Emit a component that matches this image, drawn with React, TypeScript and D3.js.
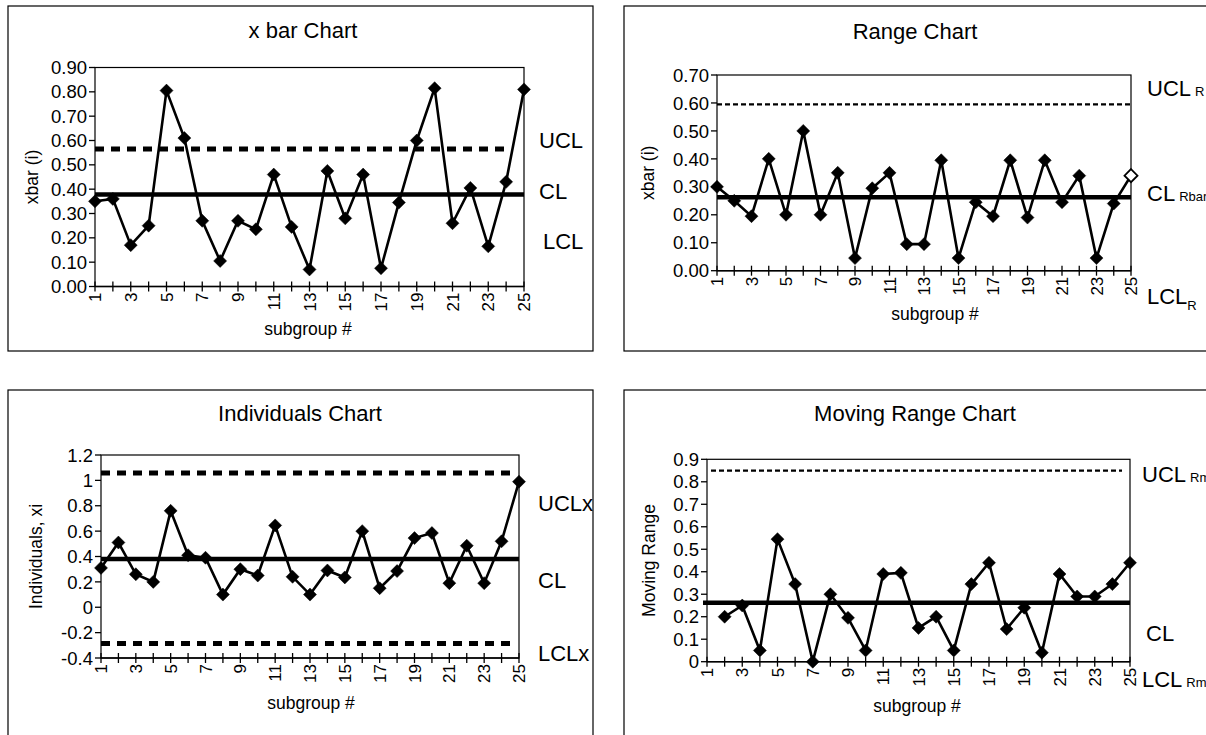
import React from "react";
import * as d3 from "d3";

const subgroups = d3.range(1, 26);
const xbarValues = [0.35, 0.36, 0.17, 0.25, 0.805, 0.61, 0.27, 0.105, 0.27, 0.235, 0.46, 0.245, 0.07, 0.475, 0.28, 0.46, 0.075, 0.345, 0.6, 0.815, 0.26, 0.405, 0.165, 0.43, 0.81];
const rangeValues = [0.3, 0.25, 0.195, 0.4, 0.2, 0.5, 0.2, 0.35, 0.045, 0.295, 0.35, 0.095, 0.095, 0.395, 0.045, 0.245, 0.195, 0.395, 0.19, 0.395, 0.245, 0.34, 0.045, 0.24, 0.34];
const indivValues = [0.31, 0.51, 0.26, 0.2, 0.76, 0.41, 0.39, 0.1, 0.3, 0.25, 0.645, 0.24, 0.1, 0.29, 0.235, 0.6, 0.15, 0.285, 0.545, 0.585, 0.19, 0.485, 0.19, 0.52, 0.99];
const mrValues = [null, 0.2, 0.25, 0.05, 0.545, 0.345, 0.0, 0.3, 0.195, 0.05, 0.39, 0.395, 0.15, 0.2, 0.05, 0.345, 0.44, 0.145, 0.24, 0.04, 0.39, 0.29, 0.29, 0.345, 0.44];

const xbarTicks = [0, 0.1, 0.2, 0.3, 0.4, 0.5, 0.6, 0.7, 0.8, 0.9];
const rangeTicks = [0, 0.1, 0.2, 0.3, 0.4, 0.5, 0.6, 0.7];
const indivTicks = [-0.4, -0.2, 0, 0.2, 0.4, 0.6, 0.8, 1, 1.2];
const mrTicks = [0, 0.1, 0.2, 0.3, 0.4, 0.5, 0.6, 0.7, 0.8, 0.9];

const FONT = "'Liberation Sans', Arial, sans-serif";

type Limit = { v: number; kind: "thickDash" | "thinDash" | "solid"; x0?: number; x1?: number };
type Lbl = { main: string; sub?: string; subShift?: number; x: number; y: number };

interface PanelProps {
  box: [number, number, number, number];
  title: string;
  titleX: number;
  titleY: number;
  xr: [number, number];
  yr: [number, number];
  ydom: [number, number];
  ticks: number[];
  fmt: (v: number) => string;
  values: (number | null)[];
  limits: Limit[];
  labels: Lbl[];
  yTitle: string;
  yTitleX: number;
  xTitleX: number;
  xTitleY: number;
  hollowLast?: boolean;
}

function Panel(p: PanelProps) {
  const x = d3.scaleLinear().domain([1, 25]).range(p.xr);
  const y = d3.scaleLinear().domain(p.ydom).range(p.yr);
  const pts = subgroups
    .map((s, i) => ({ s, v: p.values[i] }))
    .filter((d) => d.v !== null) as { s: number; v: number }[];
  const line = d3
    .line<{ s: number; v: number }>()
    .x((d) => x(d.s))
    .y((d) => y(d.v));
  const [bx, by, bw, bh] = p.box;
  const diamond = (cx: number, cy: number, r: number) =>
    `M${cx},${cy - r}L${cx + r},${cy}L${cx},${cy + r}L${cx - r},${cy}Z`;
  const yTop = p.yr[1];
  const yBot = p.yr[0];
  return (
    <g>
      <rect x={bx} y={by} width={bw} height={bh} fill="#fff" stroke="#000" strokeWidth={1.2} />
      <text x={p.titleX} y={p.titleY} textAnchor="middle" fontSize={22} fontFamily={FONT}>
        {p.title}
      </text>
      <rect x={p.xr[0]} y={yTop} width={p.xr[1] - p.xr[0]} height={yBot - yTop} fill="none" stroke="#000" strokeWidth={1.2} />
      {p.ticks.map((t) => (
        <g key={t}>
          <line x1={p.xr[0] - 6} x2={p.xr[0]} y1={y(t)} y2={y(t)} stroke="#000" strokeWidth={1.3} />
          <text x={p.xr[0] - 8} y={y(t)} dy="0.36em" textAnchor="end" fontSize={18.5} fontFamily={FONT}>
            {p.fmt(t)}
          </text>
        </g>
      ))}
      <line x1={p.xr[0]} x2={p.xr[1]} y1={yBot} y2={yBot} stroke="#000" strokeWidth={1.6} />
      {subgroups.map((s) => (
        <line key={s} x1={x(s)} x2={x(s)} y1={yBot - 5} y2={yBot + 5} stroke="#000" strokeWidth={1.3} />
      ))}
      {subgroups
        .filter((s) => s % 2 === 1)
        .map((s) => (
          <text
            key={s}
            transform={`translate(${x(s)},${yBot + 6}) rotate(-90)`}
            textAnchor="end"
            dy="0.36em"
            fontSize={17}
            fontFamily={FONT}
          >
            {s}
          </text>
        ))}
      <text x={p.xTitleX} y={p.xTitleY} textAnchor="middle" fontSize={17.5} fontFamily={FONT}>
        subgroup #
      </text>
      <text
        transform={`translate(${p.yTitleX},${(yTop + yBot) / 2}) rotate(-90)`}
        textAnchor="middle"
        fontSize={17.5}
        fontFamily={FONT}
      >
        {p.yTitle}
      </text>
      {p.limits.map((l, i) => {
        const x0 = l.x0 ?? p.xr[0];
        const x1 = l.x1 ?? p.xr[1];
        if (l.kind === "solid")
          return <line key={i} x1={x0} x2={x1} y1={y(l.v)} y2={y(l.v)} stroke="#000" strokeWidth={4.5} />;
        if (l.kind === "thickDash")
          return (
            <line key={i} x1={x0} x2={x1} y1={y(l.v)} y2={y(l.v)} stroke="#000" strokeWidth={5} strokeDasharray="9,7" />
          );
        return (
          <line key={i} x1={x0} x2={x1} y1={y(l.v)} y2={y(l.v)} stroke="#000" strokeWidth={2.2} strokeDasharray="5,3" />
        );
      })}
      <path d={line(pts) || ""} fill="none" stroke="#000" strokeWidth={2.6} />
      {pts.map((d, i) => {
        const hollow = p.hollowLast && i === pts.length - 1;
        return (
          <path
            key={d.s}
            d={diamond(x(d.s), y(d.v), 6.5)}
            fill={hollow ? "#fff" : "#000"}
            stroke="#000"
            strokeWidth={hollow ? 1.8 : 0.5}
          />
        );
      })}
      {p.labels.map((l, i) => (
        <text key={i} x={l.x} y={l.y} dy="0.36em" fontSize={22} fontFamily={FONT}>
          {l.main}
          {l.sub && (
            <tspan fontSize={13} dx={l.subShift !== undefined ? 0 : 4} dy={l.subShift ?? 0}>
              {l.sub}
            </tspan>
          )}
        </text>
      ))}
    </g>
  );
}

export default function App() {
  const f2 = (v: number) => v.toFixed(2);
  const fg = (v: number) => String(Math.round(v * 10) / 10);
  return (
    <svg width={1206} height={735} style={{ position: "absolute", left: 0, top: 0, background: "#fff" }}>
      <rect x={0} y={0} width={1206} height={735} fill="#fff" />
      <Panel
        box={[8, 6, 585, 345]}
        title="x bar Chart"
        titleX={303}
        titleY={38}
        xr={[95, 524]}
        yr={[286.5, 67.5]}
        ydom={[0, 0.9]}
        ticks={xbarTicks}
        fmt={f2}
        values={xbarValues}
        limits={[
          { v: 0.565, kind: "thickDash", x1: 505 },
          { v: 0.378, kind: "solid" },
        ]}
        labels={[
          { main: "UCL", x: 539, y: 140 },
          { main: "CL", x: 539, y: 191 },
          { main: "LCL", x: 543, y: 241 },
        ]}
        yTitle="xbar (i)"
        yTitleX={38}
        xTitleX={308}
        xTitleY={335}
      />
      <Panel
        box={[624, 6, 600, 345]}
        title="Range Chart"
        titleX={915}
        titleY={39}
        xr={[717, 1131]}
        yr={[270.7, 75]}
        ydom={[0, 0.7]}
        ticks={rangeTicks}
        fmt={f2}
        values={rangeValues}
        limits={[
          { v: 0.595, kind: "thinDash" },
          { v: 0.263, kind: "solid" },
        ]}
        labels={[
          { main: "UCL", sub: "R", x: 1147, y: 88 },
          { main: "CL", sub: "Rbar", x: 1147, y: 193 },
          { main: "LCL", sub: "R", subShift: 6, x: 1147, y: 296 },
        ]}
        yTitle="xbar (i)"
        yTitleX={654}
        xTitleX={935}
        xTitleY={320}
        hollowLast
      />
      <Panel
        box={[8, 390, 585, 370]}
        title="Individuals Chart"
        titleX={300}
        titleY={421}
        xr={[101, 519]}
        yr={[658, 455]}
        ydom={[-0.4, 1.2]}
        ticks={indivTicks}
        fmt={fg}
        values={indivValues}
        limits={[
          { v: 1.058, kind: "thickDash", x1: 510 },
          { v: 0.381, kind: "solid" },
          { v: -0.285, kind: "thickDash", x1: 510 },
        ]}
        labels={[
          { main: "UCLx", x: 538, y: 503 },
          { main: "CL", x: 538, y: 580 },
          { main: "LCLx", x: 538, y: 653 },
        ]}
        yTitle="Individuals, xi"
        yTitleX={42}
        xTitleX={311}
        xTitleY={709}
      />
      <Panel
        box={[624, 390, 600, 370]}
        title="Moving Range Chart"
        titleX={915}
        titleY={421}
        xr={[707, 1130]}
        yr={[661.7, 459.3]}
        ydom={[0, 0.9]}
        ticks={mrTicks}
        fmt={fg}
        values={mrValues}
        limits={[
          { v: 0.85, kind: "thinDash", x0: 711, x1: 1122 },
          { v: 0.262, kind: "solid", x0: 703 },
        ]}
        labels={[
          { main: "UCL", sub: "Rm", x: 1142, y: 474 },
          { main: "CL", x: 1146, y: 633 },
          { main: "LCL", sub: "Rm", x: 1142, y: 679 },
        ]}
        yTitle="Moving Range"
        yTitleX={655}
        xTitleX={917}
        xTitleY={712}
      />
    </svg>
  );
}
